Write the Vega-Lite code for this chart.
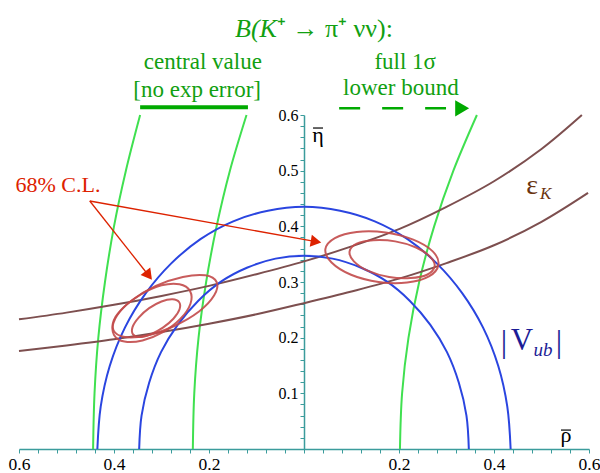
{
  "$schema": "https://vega.github.io/schema/vega-lite/v6.json",
  "width": 570,
  "height": 334,
  "autosize": {"type": "none"},
  "padding": {"left": 19, "top": 115, "right": 11, "bottom": 24},
  "background": "white",
  "config": {"view": {"stroke": null}, "font": "Liberation Serif"},
  "datasets": {
    "curves": [
      {"c":"g1","i":0,"x":-0.444,"y":0},{"c":"g1","i":1,"x":-0.441,"y":0.1},{"c":"g1","i":2,"x":-0.433,"y":0.2},{"c":"g1","i":3,"x":-0.419,"y":0.3},{"c":"g1","i":4,"x":-0.400,"y":0.4},{"c":"g1","i":5,"x":-0.375,"y":0.5},{"c":"g1","i":6,"x":-0.345,"y":0.6},
      {"c":"g2","i":0,"x":-0.234,"y":0},{"c":"g2","i":1,"x":-0.231,"y":0.1},{"c":"g2","i":2,"x":-0.222,"y":0.2},{"c":"g2","i":3,"x":-0.206,"y":0.3},{"c":"g2","i":4,"x":-0.184,"y":0.4},{"c":"g2","i":5,"x":-0.156,"y":0.5},{"c":"g2","i":6,"x":-0.121,"y":0.6},
      {"c":"g3","i":0,"x":0.202,"y":0},{"c":"g3","i":1,"x":0.2065,"y":0.1},{"c":"g3","i":2,"x":0.220,"y":0.2},{"c":"g3","i":3,"x":0.2425,"y":0.3},{"c":"g3","i":4,"x":0.274,"y":0.4},{"c":"g3","i":5,"x":0.3145,"y":0.5},{"c":"g3","i":6,"x":0.364,"y":0.6},
      {"c":"k1","i":0,"x":-0.6,"y":0.233},{"c":"k1","i":1,"x":-0.5,"y":0.245},{"c":"k1","i":2,"x":-0.4,"y":0.259},{"c":"k1","i":3,"x":-0.3,"y":0.275},{"c":"k1","i":4,"x":-0.2,"y":0.293},{"c":"k1","i":5,"x":-0.1,"y":0.314},{"c":"k1","i":6,"x":0,"y":0.337},{"c":"k1","i":7,"x":0.1,"y":0.364},{"c":"k1","i":8,"x":0.2,"y":0.395},{"c":"k1","i":9,"x":0.3,"y":0.435},{"c":"k1","i":10,"x":0.4,"y":0.481},{"c":"k1","i":11,"x":0.5,"y":0.539},{"c":"k1","i":12,"x":0.585,"y":0.6},
      {"c":"k2","i":0,"x":-0.6,"y":0.176},{"c":"k2","i":1,"x":-0.5,"y":0.186},{"c":"k2","i":2,"x":-0.4,"y":0.197},{"c":"k2","i":3,"x":-0.3,"y":0.210},{"c":"k2","i":4,"x":-0.2,"y":0.225},{"c":"k2","i":5,"x":-0.1,"y":0.242},{"c":"k2","i":6,"x":0,"y":0.262},{"c":"k2","i":7,"x":0.1,"y":0.283},{"c":"k2","i":8,"x":0.2,"y":0.306},{"c":"k2","i":9,"x":0.3,"y":0.334},{"c":"k2","i":10,"x":0.4,"y":0.366},{"c":"k2","i":11,"x":0.5,"y":0.408},{"c":"k2","i":12,"x":0.598,"y":0.46},
      {"c":"b1","i":0,"x":0.435,"y":0},{"c":"b1","i":1,"x":0.428,"y":0.076},{"c":"b1","i":2,"x":0.409,"y":0.149},{"c":"b1","i":3,"x":0.377,"y":0.218},{"c":"b1","i":4,"x":0.333,"y":0.280},{"c":"b1","i":5,"x":0.280,"y":0.333},{"c":"b1","i":6,"x":0.218,"y":0.377},{"c":"b1","i":7,"x":0.149,"y":0.409},{"c":"b1","i":8,"x":0.076,"y":0.428},{"c":"b1","i":9,"x":0,"y":0.435},{"c":"b1","i":10,"x":-0.076,"y":0.428},{"c":"b1","i":11,"x":-0.149,"y":0.409},{"c":"b1","i":12,"x":-0.218,"y":0.377},{"c":"b1","i":13,"x":-0.280,"y":0.333},{"c":"b1","i":14,"x":-0.333,"y":0.280},{"c":"b1","i":15,"x":-0.377,"y":0.218},{"c":"b1","i":16,"x":-0.409,"y":0.149},{"c":"b1","i":17,"x":-0.428,"y":0.076},{"c":"b1","i":18,"x":-0.435,"y":0},
      {"c":"b2","i":0,"x":0.347,"y":0},{"c":"b2","i":1,"x":0.342,"y":0.060},{"c":"b2","i":2,"x":0.326,"y":0.119},{"c":"b2","i":3,"x":0.301,"y":0.174},{"c":"b2","i":4,"x":0.266,"y":0.223},{"c":"b2","i":5,"x":0.223,"y":0.266},{"c":"b2","i":6,"x":0.174,"y":0.301},{"c":"b2","i":7,"x":0.119,"y":0.326},{"c":"b2","i":8,"x":0.060,"y":0.342},{"c":"b2","i":9,"x":0,"y":0.347},{"c":"b2","i":10,"x":-0.060,"y":0.342},{"c":"b2","i":11,"x":-0.119,"y":0.326},{"c":"b2","i":12,"x":-0.174,"y":0.301},{"c":"b2","i":13,"x":-0.223,"y":0.266},{"c":"b2","i":14,"x":-0.266,"y":0.223},{"c":"b2","i":15,"x":-0.301,"y":0.174},{"c":"b2","i":16,"x":-0.326,"y":0.119},{"c":"b2","i":17,"x":-0.342,"y":0.060},{"c":"b2","i":18,"x":-0.347,"y":0}
    ],
    "ellipses": [
      {"e":"L1","i":0,"x":-0.184,"y":0.300},{"e":"L1","i":1,"x":-0.208,"y":0.312},{"e":"L1","i":2,"x":-0.255,"y":0.309},{"e":"L1","i":3,"x":-0.312,"y":0.293},{"e":"L1","i":4,"x":-0.364,"y":0.266},{"e":"L1","i":5,"x":-0.397,"y":0.237},{"e":"L1","i":6,"x":-0.401,"y":0.213},{"e":"L1","i":7,"x":-0.377,"y":0.201},{"e":"L1","i":8,"x":-0.330,"y":0.204},{"e":"L1","i":9,"x":-0.273,"y":0.221},{"e":"L1","i":10,"x":-0.221,"y":0.247},{"e":"L1","i":11,"x":-0.189,"y":0.276},
      {"e":"L2","i":0,"x":-0.240,"y":0.284},{"e":"L2","i":1,"x":-0.262,"y":0.296},{"e":"L2","i":2,"x":-0.300,"y":0.294},{"e":"L2","i":3,"x":-0.343,"y":0.278},{"e":"L2","i":4,"x":-0.380,"y":0.254},{"e":"L2","i":5,"x":-0.401,"y":0.227},{"e":"L2","i":6,"x":-0.400,"y":0.205},{"e":"L2","i":7,"x":-0.378,"y":0.193},{"e":"L2","i":8,"x":-0.340,"y":0.195},{"e":"L2","i":9,"x":-0.297,"y":0.210},{"e":"L2","i":10,"x":-0.260,"y":0.234},{"e":"L2","i":11,"x":-0.239,"y":0.261},
      {"e":"L3","i":0,"x":-0.263,"y":0.264},{"e":"L3","i":1,"x":-0.277,"y":0.269},{"e":"L3","i":2,"x":-0.300,"y":0.265},{"e":"L3","i":3,"x":-0.326,"y":0.253},{"e":"L3","i":4,"x":-0.348,"y":0.236},{"e":"L3","i":5,"x":-0.361,"y":0.219},{"e":"L3","i":6,"x":-0.360,"y":0.206},{"e":"L3","i":7,"x":-0.346,"y":0.201},{"e":"L3","i":8,"x":-0.323,"y":0.206},{"e":"L3","i":9,"x":-0.297,"y":0.218},{"e":"L3","i":10,"x":-0.275,"y":0.234},{"e":"L3","i":11,"x":-0.262,"y":0.251},
      {"e":"R1","i":0,"x":0.283,"y":0.331},{"e":"R1","i":1,"x":0.271,"y":0.355},{"e":"R1","i":2,"x":0.230,"y":0.376},{"e":"R1","i":3,"x":0.172,"y":0.389},{"e":"R1","i":4,"x":0.111,"y":0.390},{"e":"R1","i":5,"x":0.065,"y":0.379},{"e":"R1","i":6,"x":0.045,"y":0.359},{"e":"R1","i":7,"x":0.058,"y":0.335},{"e":"R1","i":8,"x":0.099,"y":0.313},{"e":"R1","i":9,"x":0.157,"y":0.300},{"e":"R1","i":10,"x":0.217,"y":0.299},{"e":"R1","i":11,"x":0.263,"y":0.310},
      {"e":"R2","i":0,"x":0.275,"y":0.328},{"e":"R2","i":1,"x":0.266,"y":0.345},{"e":"R2","i":2,"x":0.236,"y":0.362},{"e":"R2","i":3,"x":0.192,"y":0.373},{"e":"R2","i":4,"x":0.146,"y":0.375},{"e":"R2","i":5,"x":0.111,"y":0.369},{"e":"R2","i":6,"x":0.096,"y":0.355},{"e":"R2","i":7,"x":0.105,"y":0.337},{"e":"R2","i":8,"x":0.135,"y":0.320},{"e":"R2","i":9,"x":0.179,"y":0.309},{"e":"R2","i":10,"x":0.224,"y":0.307},{"e":"R2","i":11,"x":0.259,"y":0.313}
    ],
    "labels": [
      {"k":"titleI","t":"B(K","x":-0.057,"y":0.754},
      {"k":"titleR","t":"⁺ → π⁺ νν):","x":-0.057,"y":0.754},
      {"k":"leg","t":"central value","x":-0.213,"y":0.695},
      {"k":"leg","t":"[no exp error]","x":-0.225,"y":0.645},
      {"k":"leg","t":"full  1σ","x":0.213,"y":0.695},
      {"k":"leg","t":"lower bound","x":0.204,"y":0.648},
      {"k":"red","t":"68% C.L.","x":-0.518,"y":0.474},
      {"k":"eps","t":"ε","x":0.48,"y":0.472},
      {"k":"epsK","t":"K","x":0.509,"y":0.458},
      {"k":"V","t":"V","x":0.459,"y":0.194},
      {"k":"ub","t":"ub","x":0.503,"y":0.178},
      {"k":"bar","t":"|","x":0.421,"y":0.192},
      {"k":"bar","t":"|","x":0.537,"y":0.192},
      {"k":"ax","t":"η","x":0.0295,"y":0.5515},
      {"k":"ax","t":"ρ","x":0.5516,"y":0.0126}
    ],
    "segments": [
      {"s":"a1","x":-0.451,"y":0.4455,"x2":0.0253,"y2":0.3725},
      {"s":"a2","x":-0.451,"y":0.4455,"x2":-0.327,"y2":0.3117},
      {"s":"solid","x":-0.345,"y":0.614,"x2":-0.118,"y2":0.614},
      {"s":"dash","x":0.074,"y":0.612,"x2":0.299,"y2":0.612},
      {"s":"over","x":0.019,"y":0.5766,"x2":0.040,"y2":0.5766},
      {"s":"over","x":0.541,"y":0.034,"x2":0.562,"y2":0.034}
    ],
    "heads": [
      {"h":"a1","x":0.0253,"y":0.3725},
      {"h":"a2","x":-0.327,"y":0.3117},
      {"h":"leg","x":0.333,"y":0.612}
    ]
  },
  "encoding": {
    "x": {"field":"x","type":"quantitative",
      "scale":{"domain":[-0.6,0.6],"nice":false,"zero":false},
      "axis":{"orient":"bottom","title":null,"grid":false,
        "values":[-0.6,-0.56,-0.52,-0.48,-0.44,-0.4,-0.36,-0.32,-0.28,-0.24,-0.2,-0.16,-0.12,-0.08,-0.04,0,0.04,0.08,0.12,0.16,0.2,0.24,0.28,0.32,0.36,0.4,0.44,0.48,0.52,0.56,0.6],
        "labelExpr":"indexof(['0.20','0.40','0.60'], format(abs(datum.value), '.2f')) >= 0 ? format(abs(datum.value), '.1f') : ''",
        "labelFont":"Liberation Serif","labelFontSize":17.5,"labelColor":"black","labelPadding":2,
        "labelFlush":false,"labelOverlap":false,
        "domainColor":"#3b9c9c","domainWidth":1.5,"tickColor":"#3b9c9c","tickSize":4,"tickWidth":1}},
    "y": {"field":"y","type":"quantitative",
      "scale":{"domain":[0,0.6],"nice":false,"zero":false},
      "axis":{"orient":"left","offset":-285,"title":null,"grid":false,
        "values":[0.02,0.04,0.06,0.08,0.1,0.12,0.14,0.16,0.18,0.2,0.22,0.24,0.26,0.28,0.3,0.32,0.34,0.36,0.38,0.4,0.42,0.44,0.46,0.48,0.5,0.52,0.54,0.56,0.58,0.6],
        "labelExpr":"indexof(['0.10','0.20','0.30','0.40','0.50','0.60'], format(datum.value, '.2f')) >= 0 ? format(datum.value, '.1f') : ''",
        "labelFont":"Liberation Serif","labelFontSize":16,"labelColor":"black","labelPadding":2,
        "labelFlush":false,"labelOverlap":false,
        "domainColor":"#3b9c9c","domainWidth":1.5,"tickColor":"#3b9c9c","tickSize":4,"tickWidth":1}}
  },
  "layer": [
    {"data":{"name":"curves"},
     "mark":{"type":"line","strokeWidth":2,"interpolate":"catmull-rom"},
     "encoding":{
       "color":{"field":"c","type":"nominal","legend":null,
         "scale":{"domain":["g1","g2","g3","k1","k2","b1","b2"],"range":["#40e050","#40e050","#40e050","#7d4f4f","#7d4f4f","#2a45e0","#2a45e0"]}},
       "order":{"field":"i","type":"quantitative"}}},
    {"data":{"name":"ellipses"},
     "mark":{"type":"line","strokeWidth":2,"interpolate":"cardinal-closed","color":"#c24a4a","opacity":0.9},
     "encoding":{"detail":{"field":"e","type":"nominal"},"order":{"field":"i","type":"quantitative"}}},
    {"data":{"name":"segments"},"transform":[{"filter":"datum.s=='a1' || datum.s=='a2'"}],
     "mark":{"type":"rule","color":"#dd2200","strokeWidth":1.3},
     "encoding":{"x2":{"field":"x2"},"y2":{"field":"y2"}}},
    {"data":{"name":"segments"},"transform":[{"filter":"datum.s=='over'"}],
     "mark":{"type":"rule","color":"black","strokeWidth":1.2},
     "encoding":{"x2":{"field":"x2"},"y2":{"field":"y2"}}},
    {"data":{"name":"segments"},"transform":[{"filter":"datum.s=='solid'"}],
     "mark":{"type":"rule","color":"#00aa00","strokeWidth":4},
     "encoding":{"x2":{"field":"x2"},"y2":{"field":"y2"}}},
    {"data":{"name":"segments"},"transform":[{"filter":"datum.s=='dash'"}],
     "mark":{"type":"rule","color":"#00aa00","strokeWidth":2.5,"strokeDash":[21,22]},
     "encoding":{"x2":{"field":"x2"},"y2":{"field":"y2"}}},
    {"data":{"name":"heads"},"transform":[{"filter":"datum.h=='a1'"}],
     "mark":{"type":"point","shape":"triangle-right","filled":true,"color":"#dd2200","size":150,"angle":10,"opacity":1}},
    {"data":{"name":"heads"},"transform":[{"filter":"datum.h=='a2'"}],
     "mark":{"type":"point","shape":"triangle-right","filled":true,"color":"#dd2200","size":150,"angle":52,"opacity":1}},
    {"data":{"name":"heads"},"transform":[{"filter":"datum.h=='leg'"}],
     "mark":{"type":"point","shape":"triangle-right","filled":true,"color":"#00aa00","size":260,"opacity":1}},
    {"data":{"name":"labels"},"transform":[{"filter":"datum.k=='titleI'"}],
     "mark":{"type":"text","font":"Liberation Serif","fontSize":26,"fontStyle":"italic","color":"#11a011","align":"right","baseline":"middle"},
     "encoding":{"text":{"field":"t"}}},
    {"data":{"name":"labels"},"transform":[{"filter":"datum.k=='titleR'"}],
     "mark":{"type":"text","font":"Liberation Serif","fontSize":26,"color":"#11a011","align":"left","baseline":"middle"},
     "encoding":{"text":{"field":"t"}}},
    {"data":{"name":"labels"},"transform":[{"filter":"datum.k=='leg'"}],
     "mark":{"type":"text","font":"Liberation Serif","fontSize":23,"color":"#11a011","align":"center","baseline":"middle"},
     "encoding":{"text":{"field":"t"}}},
    {"data":{"name":"labels"},"transform":[{"filter":"datum.k=='red'"}],
     "mark":{"type":"text","font":"Liberation Serif","fontSize":22,"color":"#dd2200","align":"center","baseline":"middle"},
     "encoding":{"text":{"field":"t"}}},
    {"data":{"name":"labels"},"transform":[{"filter":"datum.k=='eps'"}],
     "mark":{"type":"text","font":"Liberation Serif","fontSize":28,"color":"#6b3510","align":"center","baseline":"middle"},
     "encoding":{"text":{"field":"t"}}},
    {"data":{"name":"labels"},"transform":[{"filter":"datum.k=='epsK'"}],
     "mark":{"type":"text","font":"Liberation Serif","fontSize":17,"fontStyle":"italic","color":"#6b3510","align":"center","baseline":"middle"},
     "encoding":{"text":{"field":"t"}}},
    {"data":{"name":"labels"},"transform":[{"filter":"datum.k=='V'"}],
     "mark":{"type":"text","font":"Liberation Serif","fontSize":31,"color":"#1c1c96","align":"center","baseline":"middle"},
     "encoding":{"text":{"field":"t"}}},
    {"data":{"name":"labels"},"transform":[{"filter":"datum.k=='ub'"}],
     "mark":{"type":"text","font":"Liberation Serif","fontSize":19,"fontStyle":"italic","color":"#1c1c96","align":"center","baseline":"middle"},
     "encoding":{"text":{"field":"t"}}},
    {"data":{"name":"labels"},"transform":[{"filter":"datum.k=='bar'"}],
     "mark":{"type":"text","font":"Liberation Serif","fontSize":32,"color":"#1c1c96","align":"center","baseline":"middle"},
     "encoding":{"text":{"field":"t"}}},
    {"data":{"name":"labels"},"transform":[{"filter":"datum.k=='ax'"}],
     "mark":{"type":"text","font":"Liberation Serif","fontSize":22,"color":"black","align":"center","baseline":"alphabetic"},
     "encoding":{"text":{"field":"t"}}}
  ]
}
